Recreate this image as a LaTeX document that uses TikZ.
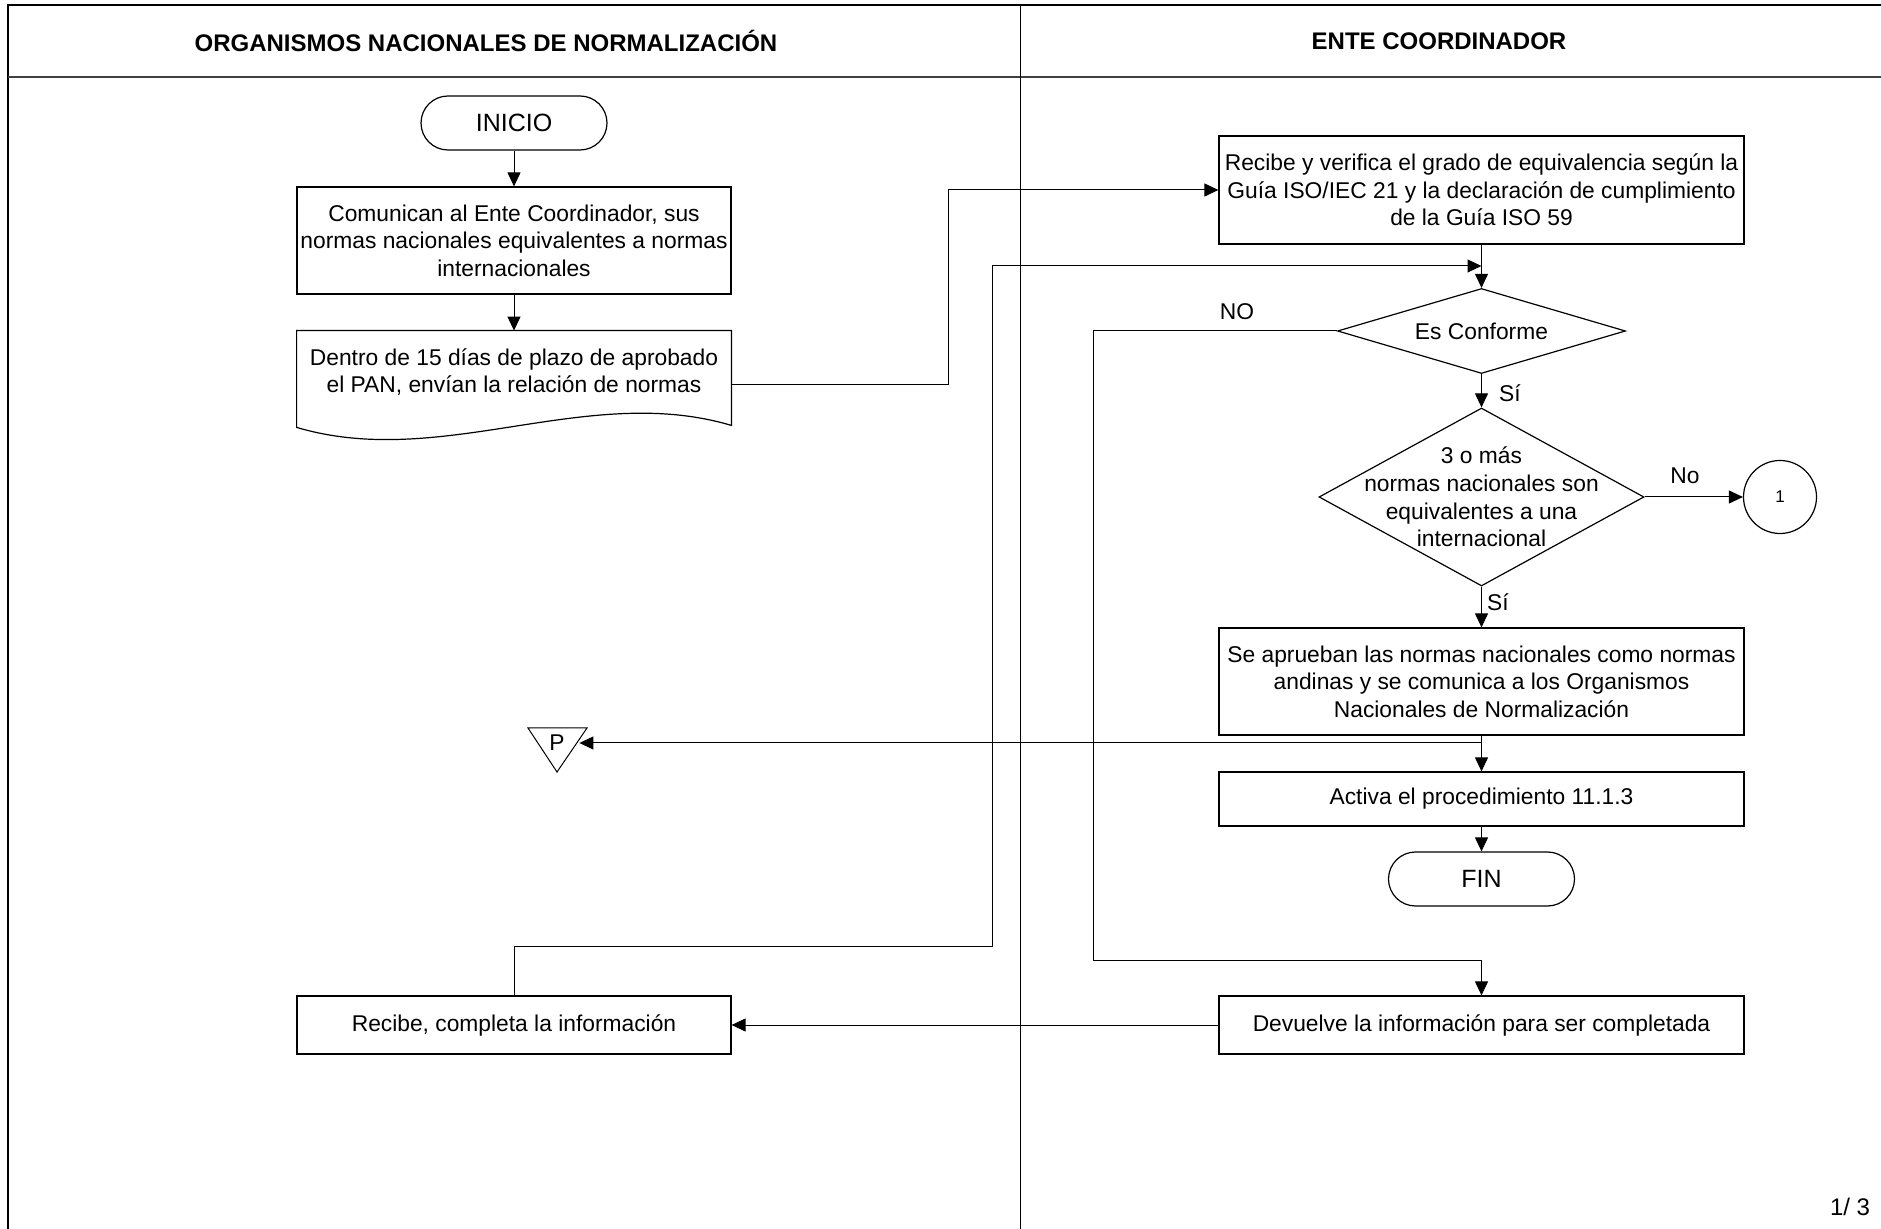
\documentclass[tikz,border=0pt]{standalone}
\usepackage{fontspec}
\setmainfont{Liberation Sans}
\usetikzlibrary{arrows.meta,shapes.geometric}

\begin{document}
\begin{tikzpicture}[x=0.5pt,y=-0.5pt,
    caja/.style={draw,line width=0.6pt,inner sep=0pt,align=center,
      font=\fontsize{11.4}{13.7}\selectfont},
    terminal/.style={draw,line width=0.6pt,rounded corners=13.5pt,minimum width=93pt,
      minimum height=27pt,inner sep=0pt,font=\fontsize{12.5}{14}\selectfont},
    decision/.style={diamond,draw,line width=0.6pt,inner sep=0pt},
    texto/.style={align=center,inner sep=0pt,font=\fontsize{11.4}{13.8}\selectfont},
    etiqueta/.style={inner sep=0pt,font=\fontsize{11.4}{13}\selectfont},
    flecha/.style={line width=0.5pt,-{Triangle[width=6.5pt,length=7pt]}}]

  \useasboundingbox (0,0) rectangle (1881,1229);
  \clip (0,0) rectangle (1881,1229);

  % marco y carriles
  \draw[line width=0.7pt] (8,5) rectangle (1900,1250);
  \draw[line width=1.1pt,black!75] (8,77) -- (1900,77);
  \draw[line width=0.5pt] (1020,5) -- (1020,1250);

  \begin{scope}[every node/.style={font=\bfseries\fontsize{12}{14}\selectfont}]
    \node (carril1) at (486,41) {ORGANISMOS NACIONALES DE NORMALIZACIÓN};
    \node (carril2) at (1439,41) {ENTE COORDINADOR};
  \end{scope}

  % organismos nacionales
  \node[terminal] (inicio) at (514,123) {INICIO};
  \node[caja,minimum width=217pt,minimum height=53.5pt] (comunican) at (514,240.5)
    {Comunican al Ente Coordinador, sus\\normas nacionales equivalentes a normas\\internacionales};
  \node[texto,minimum width=217pt,minimum height=41pt] (dentro) at (514,372)
    {Dentro de 15 días de plazo de aprobado\\el PAN, envían la relación de normas};
  \draw[line width=0.6pt] (dentro.north west) -- ([yshift=-7pt]dentro.south west)
    .. controls +(145,43) and +(-145,-43) .. ([yshift=-6pt]dentro.south east)
    -- (dentro.north east) -- cycle;
  \node[caja,minimum width=217pt,minimum height=29pt] (completa) at (514,1025)
    {Recibe, completa la información};
  \node[etiqueta,minimum width=22pt] (p) at (557,743) {P};
  \draw[line width=0.5pt] (p.center) ++(-29,-15) -- ++(59,0) -- ++(-30,44) -- cycle;

  % ente coordinador
  \node[caja,minimum width=262.5pt,minimum height=54pt] (recibe) at (1481.5,190)
    {Recibe y verifica el grado de equivalencia según la\\Guía ISO/IEC 21 y la declaración de cumplimiento\\de la Guía ISO 59};
  \node[decision,minimum width=144pt,minimum height=42.5pt] (conforme) at (1481.5,331) {};
  \node[texto] (conformetxt) at (conforme) {Es Conforme};
  \node[decision,minimum width=162.5pt,minimum height=89pt] (equiv) at (1481.5,497) {};
  \node[texto] (equivtxt) at (equiv)
    {3 o más\\normas nacionales son\\equivalentes a una\\internacional};
  \node[circle,draw,line width=0.6pt,minimum size=36.5pt,inner sep=0pt,
    font=\fontsize{8.5}{9}\selectfont] (uno) at (1780,497) {1};
  \node[caja,minimum width=262.5pt,minimum height=53.5pt] (aprueban) at (1481.5,681.5)
    {Se aprueban las normas nacionales como normas\\andinas y se comunica a los Organismos\\Nacionales de Normalización};
  \node[caja,minimum width=262.5pt,minimum height=27pt] (activa) at (1481.5,799)
    {Activa el procedimiento 11.1.3};
  \node[terminal] (fin) at (1481.5,879) {FIN};
  \node[caja,minimum width=262.5pt,minimum height=29pt] (devuelve) at (1481.5,1025)
    {Devuelve la información para ser completada};

  \node[etiqueta] (no1) at (1237,312) {NO};
  \node[etiqueta] (si1) at (1510,393) {Sí};
  \node[etiqueta] (no2) at (1685,476) {No};
  \node[etiqueta] (si2) at (1498,602) {Sí};
  \node[font=\fontsize{12}{14}\selectfont] (pagina) at (1850,1207) {1/ 3};

  \coordinate (junta) at (1481.5,266);
  \coordinate (ramal) at (1481.5,743);

  % conectores
  \draw[flecha] (inicio) -- (comunican);
  \draw[flecha] (comunican) -- (dentro);
  \draw[flecha] ([yshift=-6.5pt]dentro.east) -- ++(217,0) |- (recibe.west);
  \draw[flecha] (recibe) -- (conforme);
  \draw[flecha] (completa.north) |- (992,946) |- (junta);
  \draw[flecha] (conforme.west) -| (1093,960) -| (devuelve.north);
  \draw[flecha] (conforme) -- (equiv);
  \draw[flecha] (equiv) -- (uno);
  \draw[flecha] (equiv) -- (aprueban);
  \draw[flecha] (aprueban) -- (activa);
  \draw[flecha] (ramal) -- (p.east);
  \draw[flecha] (activa) -- (fin);
  \draw[flecha] (devuelve) -- (completa);

\end{tikzpicture}
\end{document}
